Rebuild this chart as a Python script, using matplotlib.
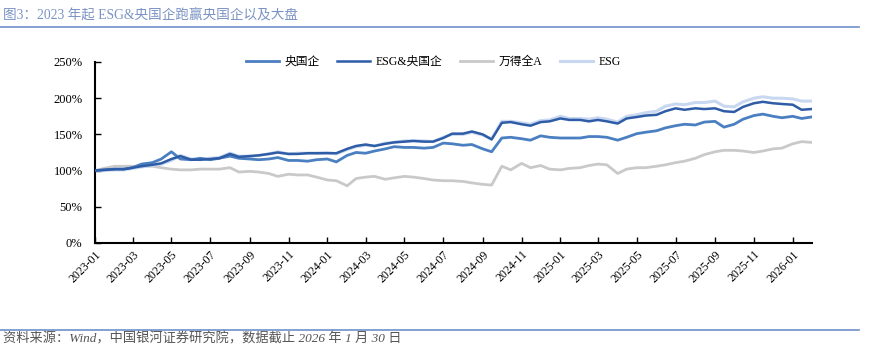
import matplotlib
matplotlib.use('Agg')
import matplotlib.pyplot as plt
import matplotlib.dates as mdates
import pandas as pd

plt.rcParams['font.family'] = ['Liberation Serif', 'Noto Sans CJK SC']

# semi-monthly observations, 2023-01-01 .. 2026-01-30
dates = list(pd.date_range('2023-01-01', '2026-01-16', freq='SMS')) + [pd.Timestamp('2026-01-30')]

soe = [100, 101, 102, 102, 104, 109, 111, 116, 126, 116,
       115, 117, 115, 117, 120, 117, 116, 115, 116, 118,
       114, 114, 113, 115, 116, 112, 121, 125, 124, 127,
       130, 133, 132, 132, 131, 132, 138, 137, 135, 136,
       130, 126, 145, 146, 144, 142, 148, 146, 145, 145,
       145, 147, 147, 146, 142, 146, 151, 153, 155, 159,
       162, 164, 163, 167, 168, 160, 164, 171, 176, 178,
       175, 173, 175, 172, 174]

esg_soe = [100, 101, 102, 102, 104, 106, 108, 110, 116, 120,
           115, 115, 116, 117, 123, 119, 120, 121, 123, 125,
           123, 123, 124, 124, 124, 124, 130, 134, 136, 134,
           137, 139, 140, 141, 140, 140, 145, 151, 151, 154,
           150, 143, 166, 167, 164, 162, 167, 168, 172, 170,
           170, 168, 170, 168, 165, 172, 174, 176, 177, 182,
           186, 184, 186, 185, 186, 182, 181, 188, 193, 195,
           193, 192, 191, 184, 185]

wind_a = [100, 103, 106, 106, 106, 106, 106, 104, 102, 101,
          101, 102, 102, 102, 104, 98, 99, 98, 96, 92,
          95, 94, 94, 91, 87, 86, 79, 89, 91, 92,
          88, 90, 92, 91, 89, 87, 86, 86, 85, 83,
          81, 80, 106, 101, 110, 104, 107, 102, 101, 103,
          104, 107, 109, 108, 96, 102, 104, 104, 106, 108,
          111, 113, 117, 122, 126, 128, 128, 127, 125, 127,
          130, 131, 137, 140, 139]

esg = [100, 100, 101, 101, 103, 105, 107, 109, 114, 121,
       116, 115, 117, 118, 124, 120, 120, 121, 123, 126,
       123, 124, 124, 124, 125, 123, 129, 133, 135, 134,
       138, 139, 141, 141, 141, 140, 146, 150, 150, 153,
       149, 144, 168, 168, 166, 164, 169, 170, 175, 172,
       172, 171, 173, 171, 167, 175, 177, 180, 182, 189,
       192, 191, 194, 194, 196, 189, 188, 195, 200, 202,
       200, 200, 199, 196, 196]

fig = plt.figure(figsize=(8.72, 3.45), dpi=100)
ax = fig.add_axes([0.109, 0.2957, 0.822, 0.5246])

l1, = ax.plot(dates, soe, color='#4a7fc1', lw=2.0, zorder=3, label='央国企')
l2, = ax.plot(dates, esg_soe, color='#2f5ca6', lw=1.8, zorder=4, label='ESG&央国企')
l3, = ax.plot(dates, wind_a, color='#c9c9c9', lw=2.0, zorder=1, label='万得全A')
l4, = ax.plot(dates, esg, color='#c8d8f0', lw=2.2, zorder=2, label='ESG')

ax.set_xlim(pd.Timestamp('2023-01-01'), pd.Timestamp('2026-01-31'))
ax.set_ylim(0, 250)
ax.set_yticks(range(0, 251, 50))
ax.set_yticklabels([f'{v}%' for v in range(0, 251, 50)])

ax.xaxis.set_major_locator(mdates.MonthLocator(bymonth=[1, 3, 5, 7, 9, 11]))
ax.xaxis.set_major_formatter(mdates.DateFormatter('%Y-%m'))
for lab in ax.get_xticklabels():
    lab.set_rotation(45)
    lab.set_ha('right')
    lab.set_rotation_mode('anchor')

ax.tick_params(axis='x', direction='in', length=4, width=1, labelsize=8.5, pad=4)
ax.tick_params(axis='y', direction='in', length=4, width=1, labelsize=9, pad=9)
for s in ['top', 'right']:
    ax.spines[s].set_visible(False)
for s in ['left', 'bottom']:
    ax.spines[s].set_linewidth(1.5)

fig.legend(handles=[l1, l2, l3, l4], loc='center', bbox_to_anchor=(0.497, 0.82),
           ncol=4, frameon=False, fontsize=8.5, handlelength=2.8, columnspacing=1.5,
           handletextpad=0.45)

# header and footer
fig.text(0.003, 0.955, '图3：2023 年起 ESG&央国企跑赢央国企以及大盘', fontsize=9.8,
         color='#7b93c4', va='center', ha='left')
fig.add_artist(plt.Line2D([0, 0.985], [0.922, 0.922], color='#6f8fca', lw=1.2))
fig.add_artist(plt.Line2D([0, 0.985], [0.043, 0.043], color='#6f8fca', lw=1.2))
fig.text(0.003, 0.018, '资料来源：Wind，中国银河证券研究院，数据截止 2026 年 1 月 30 日',
         fontsize=9.5, color='#555555', style='italic', va='center', ha='left')

fig.savefig('out.png', dpi=100)
